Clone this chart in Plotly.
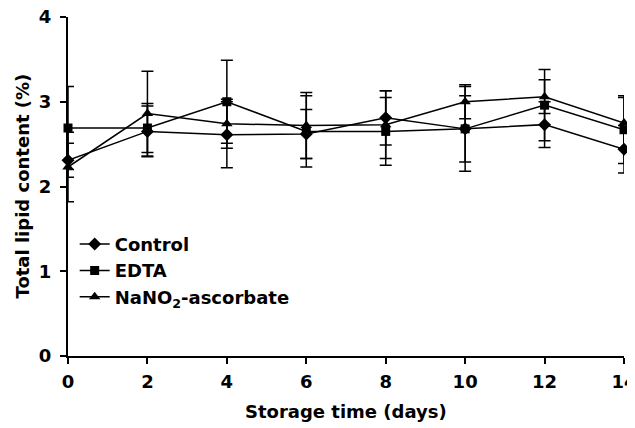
import plotly.graph_objects as go

days = [0, 2, 4, 6, 8, 10, 12, 14]

control = [2.31, 2.65, 2.61, 2.62, 2.81, 2.68, 2.73, 2.44]
control_err = [0.20, 0.30, 0.39, 0.29, 0.32, 0.39, 0.27, 0.28]

edta = [2.69, 2.69, 3.00, 2.65, 2.65, 2.68, 2.96, 2.67]
edta_err = [0.49, 0.29, 0.49, 0.42, 0.40, 0.50, 0.42, 0.40]

nano2 = [2.23, 2.86, 2.74, 2.72, 2.73, 3.00, 3.06, 2.75]
nano2_err = [0.41, 0.50, 0.29, 0.39, 0.40, 0.20, 0.20, 0.30]

y_ticks = [0, 1, 2, 3, 4]

series = [
    ("Control", control, control_err, "diamond", 10),
    ("EDTA", edta, edta_err, "square", 9),
    ("NaNO<sub>2</sub>-ascorbate", nano2, nano2_err, "triangle-up", 10),
]

font_family = "DejaVu Sans, Liberation Sans, Arial, sans-serif"
fs = 18

fig = go.Figure()
for name, vals, errs, sym, size in series:
    fig.add_trace(go.Scatter(
        x=days, y=vals, name=name, mode="lines+markers",
        line=dict(color="black", width=1.5),
        marker=dict(symbol=sym, size=size, color="black"),
        error_y=dict(type="data", array=errs, visible=True,
                     color="black", thickness=1.5, width=6),
        cliponaxis=False,
    ))

# page body has an 8px default margin, so the figure is sized/offset to fit the window
fig.update_layout(
    width=643, height=420,
    margin=dict(l=60, r=27, t=9, b=72, autoexpand=False),
    paper_bgcolor="white", plot_bgcolor="white",
    font=dict(family=font_family, size=fs, color="black"),
    showlegend=True,
    legend=dict(
        x=0.012, y=0.384, xanchor="left", yanchor="top",
        bgcolor="rgba(0,0,0,0)",
        font=dict(family=font_family, size=fs, color="black", weight="bold"),
        tracegroupgap=0,
    ),
    xaxis=dict(
        range=[0, 14], tickmode="array", tickvals=days,
        ticktext=[f"<b>{d}</b>" for d in days],
        showline=True, linecolor="black", linewidth=2,
        ticks="outside", ticklen=6, tickwidth=2, tickcolor="black",
        ticklabelstandoff=2, ticklabeloverflow="allow",
        showgrid=False, zeroline=False, automargin=False,
        tickfont=dict(size=fs),
    ),
    yaxis=dict(
        range=[0, 4], tickmode="array", tickvals=y_ticks,
        ticktext=[f"<b>{t}</b>" for t in y_ticks],
        showline=True, linecolor="black", linewidth=2,
        ticks="outside", ticklen=6, tickwidth=2, tickcolor="black",
        ticklabelstandoff=5, ticklabeloverflow="allow",
        showgrid=False, zeroline=False, automargin=False,
        tickfont=dict(size=fs),
    ),
    annotations=[
        dict(text="<b>Storage time (days)</b>", xref="paper", yref="paper",
             x=0.5, y=0, xanchor="center", yanchor="middle", yshift=-55,
             showarrow=False, font=dict(size=fs)),
        dict(text="<b>Total lipid content (%)</b>", xref="paper", yref="paper",
             x=0, y=0.5, xanchor="center", yanchor="middle", xshift=-46,
             textangle=-90, showarrow=False, font=dict(size=fs)),
    ],
)

fig.write_html("out.html")
